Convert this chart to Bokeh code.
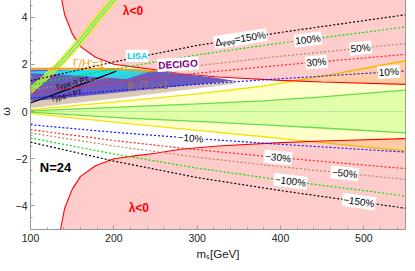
import numpy as np
from bokeh.plotting import figure
from bokeh.models import Label, FixedTicker
from bokeh.embed import file_html
from bokeh.resources import INLINE

# ---------------- data ----------------
m_delta = [100, 200, 300, 400, 550]
delta_150 = [1.30, 2.10, 2.80, 3.35, 4.10]
delta_100 = [1.12, 1.80, 2.40, 2.90, 3.58]
delta_50 = [0.91, 1.46, 1.94, 2.34, 2.88]
delta_30 = [0.77, 1.23, 1.62, 1.96, 2.42]
delta_10 = [0.56, 0.88, 1.15, 1.39, 1.72]
delta_names = ["150%", "100%", "50%", "30%", "10%"]
label_m_pos = [352, 433, 496, 443, 530]
label_m_neg = [494, 412, 477, 397, 292]

m_lam = [136, 141, 150, 160, 178, 200, 225, 250, 280, 325, 400, 450, 550]
lam_bound = [5.0, 4.1, 3.3, 2.75, 2.3, 2.0, 1.88, 1.77, 1.6, 1.46, 1.32, 1.25, 1.15]

m_wedge = [100, 215, 300, 380, 450, 550]
yellow_up = [0.08, 0.45, 0.75, 1.08, 1.5, 2.15]
yellow_lo = [-0.08, -0.5, -0.8, -1.07, -1.32, -1.67]
green_up = [0.03, 0.2, 0.32, 0.45, 0.62, 0.91]
green_lo = [-0.03, -0.28, -0.42, -0.57, -0.7, -0.91]

band_m = [96, 100, 120, 140, 160, 180, 200, 208]
band_w = [0.75, 0.9, 1.5, 2.2, 3.0, 3.9, 4.75, 5.1]

purple_m = [100, 230, 260, 290, 320, 345, 215, 100]
purple_w = [1.78, 1.76, 1.68, 1.56, 1.44, 1.30, 0.84, 0.42]
cyan_m = [100, 150, 215, 245, 215, 170, 130, 100]
cyan_w = [1.70, 1.76, 1.78, 1.72, 1.38, 1.48, 1.58, 1.62]
brown_m = [100, 215, 345, 345, 215, 100]
brown_w = [0.42, 0.84, 1.30, 1.18, 0.60, 0.15]
orange_m = [100, 150, 200, 250]
orange_w = [1.82, 1.82, 1.80, 1.72]
orange_fill_m = [200, 255, 290, 250, 215]
orange_fill_w = [1.80, 1.72, 1.56, 1.62, 1.70]
type1_m = [100, 150, 203]
type1_w = [0.36, 1.0, 1.71]

x_ticks = [100, 200, 300, 400, 500]
y_ticks = [-4, -2, 0, 2, 4]

# ---------------- figure ----------------
W, H = 411, 271
p = figure(width=W, height=H, x_range=(100, 550), y_range=(-5, 5),
           output_backend="svg", toolbar_location=None,
           min_border_left=32, min_border_right=2, min_border_top=1, min_border_bottom=34)
p.margin = (-8, 0, 0, -4)
p.grid.visible = False
p.outline_line_color = "#9a9a9a"
p.background_fill_color = "white"
p.border_fill_color = "white"

FONT = "Liberation Sans"
for ax in (p.xaxis[0], p.yaxis[0]):
    ax.axis_line_color = "#9a9a9a"
    ax.major_tick_line_color = "#9a9a9a"
    ax.minor_tick_line_color = "#9a9a9a"
    ax.major_tick_in = 4
    ax.major_tick_out = 0
    ax.minor_tick_in = 2
    ax.minor_tick_out = 0
    ax.major_label_text_font = FONT
    ax.major_label_text_font_size = "10.5px"
    ax.major_label_text_color = "#222222"
    ax.axis_label_text_font = FONT
    ax.axis_label_text_font_style = "normal"
    ax.axis_label_text_color = "#222222"

p.xaxis.major_label_standoff = 4
p.yaxis.major_label_standoff = 3
p.xaxis.ticker = FixedTicker(ticks=x_ticks, minor_ticks=list(range(100, 551, 20)))
p.yaxis.ticker = FixedTicker(ticks=y_ticks, minor_ticks=[v / 2 for v in range(-10, 11)])
p.yaxis.major_label_overrides = {t: (str(t).replace("-", "\u2212")) for t in y_ticks}
p.xaxis.axis_label = "m\u209b[GeV]"
p.xaxis.axis_label_text_font_size = "11.5px"
p.xaxis.axis_label_standoff = 3
p.yaxis.axis_label = "\u03c9"
p.yaxis.axis_label_text_font_size = "11px"
p.yaxis.axis_label_standoff = 1

# yellow & green wedges around omega = 0
p.varea(x=m_wedge, y1=yellow_lo, y2=yellow_up, fill_color="#FFFF00", fill_alpha=0.2)
p.varea(x=m_wedge, y1=green_lo, y2=green_up, fill_color="#44FF00", fill_alpha=0.16)
for ys in (yellow_up, yellow_lo):
    p.line(m_wedge, ys, line_color="#F2E600", line_width=1.3)
for ys in (green_up, green_lo):
    p.line(m_wedge, ys, line_color="#66DD44", line_width=1.3)
p.line([100, 550], [0, 0], line_color="#B8EE99", line_width=1)

# lambda < 0 regions
lam_arr = np.array(lam_bound)
p.varea(x=m_lam, y1=lam_arr, y2=[5.2] * len(m_lam), fill_color="#FF0000", fill_alpha=0.2)
p.varea(x=m_lam, y1=[-5.2] * len(m_lam), y2=-lam_arr, fill_color="#FF0000", fill_alpha=0.2)
p.line(m_lam, lam_arr, line_color="#FF0000", line_width=1.1)
p.line(m_lam, -lam_arr, line_color="#FF0000", line_width=1.1)

# transition regions
p.patch(brown_m, brown_w, fill_color="#B0845A", fill_alpha=0.45, line_color=None)
p.patch(orange_fill_m, orange_fill_w, fill_color="#FFA040", fill_alpha=0.8, line_color=None)
p.patch(purple_m, purple_w, fill_color="#6B5BBF", fill_alpha=1.0, line_color=None)
p.patch(cyan_m, cyan_w, fill_color="#22DDF0", fill_alpha=1.0, line_color=None)

# diagonal band (drawn over the transition regions)
bm = np.array(band_m, dtype=float)
bw = np.array(band_w)
for half, fc, lc in ((4.5, "#FFFF99", "#F2E600"), (2.0, "#C8F59A", "#66DD44")):
    xs = list(bm - half) + list((bm + half)[::-1])
    ys = list(bw) + list(bw[::-1])
    p.patch(xs, ys, fill_color=fc, fill_alpha=0.75, line_color=None)
    p.line(list(bm - half), list(bw), line_color=lc, line_width=1.1)
    p.line(list(bm + half), list(bw), line_color=lc, line_width=1.1)

p.line(orange_m, orange_w, line_color="#FF9900", line_width=1.8)
p.line(type1_m, type1_w, line_color="black", line_width=1.2)

# Delta lines
delta_series = [delta_150, delta_100, delta_50, delta_30, delta_10]
delta_colors = ["#000000", "#00E000", "#B88A60", "#FF2020", "#1010FF"]
for ys, col in zip(delta_series, delta_colors):
    arr = np.array(ys)
    p.line(m_delta, arr, line_color=col, line_width=1.2, line_dash="2 2")
    p.line(m_delta, -arr, line_color=col, line_width=1.2, line_dash="2 2")

# label helper
def tlabel(x, y, text, color="black", size="10px", bold=False, angle=0.0,
           bg=None, align="center", xo=0, yo=0, font=FONT, baseline="middle"):
    kw = dict(x=x, y=y, text=text, text_color=color, text_font_size=size,
              text_font_style="bold" if bold else "normal", angle=angle,
              text_align=align, text_baseline=baseline, text_font=font,
              x_offset=xo, y_offset=yo)
    if bg is not None:
        kw.update(background_fill_color=bg, padding=1)
    p.add_layout(Label(**kw))

# approximate pixel scales (for text rotation along lines)
sx = 377.0 / 450.0
sy = 236.0 / 10.0

def line_angle(ys, mpos):
    m = np.array(m_delta, dtype=float)
    y = np.array(ys)
    slope = (np.interp(mpos + 5, m, y) - np.interp(mpos - 5, m, y)) / 10.0
    return float(np.arctan(slope * sy / sx))

for ys, name, mp, mn in zip(delta_series, delta_names, label_m_pos, label_m_neg):
    txt = ("\u0394\u1d69\u1d69\u1d69=" + name) if name == "150%" else name
    wp = float(np.interp(mp, m_delta, ys))
    tlabel(mp, wp, txt, size="10px", angle=line_angle(ys, mp), bg="white")
    wn = float(np.interp(mn, m_delta, ys))
    tlabel(mn, -wn, "\u2212" + name, size="10px", angle=-line_angle(ys, mn), bg="white")

# region labels
tlabel(223, 4.24, "\u03bb<0", color="#FF0000", size="12px", bold=True)
tlabel(230, -4.1, "\u03bb<0", color="#FF0000", size="12px", bold=True)
tlabel(130, -2.38, "N=24", color="black", size="13px", bold=True)
tlabel(228, 2.36, "LISA", color="#00CCEE", size="9px", bold=True, bg="white")
tlabel(277, 2.0, "DECIGO", color="#800080", size="10px", bold=True, bg="white", angle=0.06)
tlabel(170, 2.05, "\u0393/H'=1", color="#FF9900", size="11px", angle=-0.05)
w_t1 = float(np.interp(150, type1_m, type1_w))
tlabel(150, w_t1 + 0.2, "Type-II PT", color="black", size="7.5px", angle=0.25)
w_t2 = float(np.interp(143, type1_m, type1_w))
tlabel(143, w_t2 - 0.24, "Type-I PT", color="black", size="7.5px", angle=0.25)

# phi_c / T_c >= 1 with subscripts
PC = "#A07850"
tlabel(216, 1.13, "\u03d5", color=PC, size="11px", align="left")
tlabel(216, 1.13, "C", color=PC, size="7px", align="left", xo=7, yo=-3)
tlabel(216, 1.13, "/T", color=PC, size="11px", align="left", xo=12)
tlabel(216, 1.13, "C", color=PC, size="7px", align="left", xo=23, yo=-3)
tlabel(216, 1.13, "\u22651", color=PC, size="11px", align="left", xo=29)

open("out.html", "w").write(file_html(p, INLINE))
